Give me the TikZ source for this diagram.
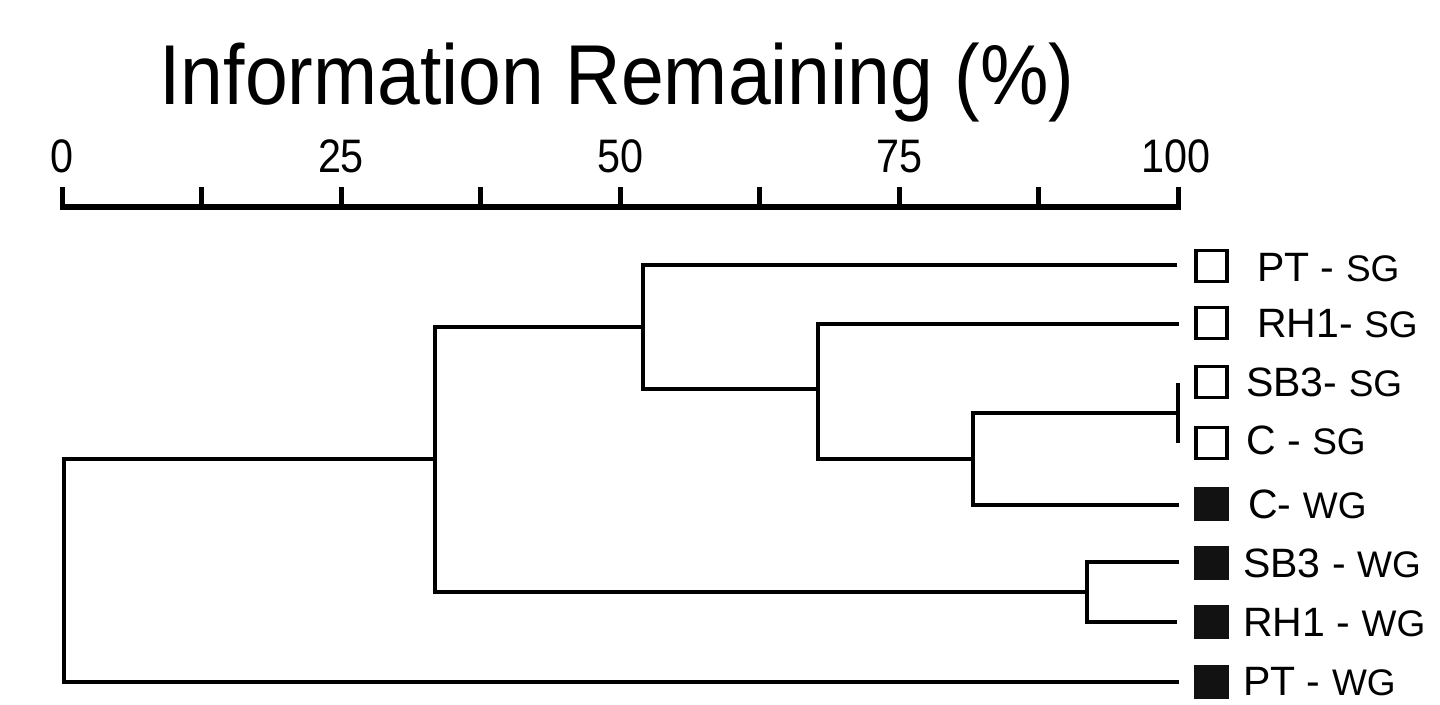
\documentclass[tikz,border=0pt]{standalone}
\usepackage{fontspec}
\usepackage{graphicx}
\setmainfont{Liberation Sans}
\newcommand\labbig{\fontsize{41}{41}\selectfont}
\newcommand\labsmall{\fontsize{37}{37}\selectfont}
\newcommand\ticklab[1]{\scalebox{0.88}[1]{\fontsize{47}{47}\selectfont #1}}
\begin{document}
\begin{tikzpicture}[x=1pt,y=-1pt,
  link/.style={line width=3.2pt, line join=miter},
  axisline/.style={line width=6pt},
  tickmark/.style={line width=5pt},
  openbox/.style={draw=black, line width=3.5pt, minimum size=31pt, inner sep=0pt},
  fullbox/.style={openbox, draw=black!93, fill=black!93},
  lab/.style={anchor=base west, inner sep=0pt},
  ticktext/.style={anchor=base, inner sep=0pt}]
\useasboundingbox (0,0) rectangle (1440,704);
\fill[white] (0,0) rectangle (1440,704);

% title
\node[ticktext] (title) at (617,104) {\scalebox{0.905}[1]{\fontsize{85}{85}\selectfont Information Remaining (\%)}};

% axis
\coordinate (a0) at (62,207);
\coordinate (a100) at (1178,207);
\draw[axisline] ([xshift=-2.5pt]a0) -- ([xshift=2.5pt]a100);
\foreach \k in {0,...,8} {
  \draw[tickmark] (62+139.5*\k,187) -- (62+139.5*\k,205);
}
\node[ticktext] (t0) at (62,172) {\ticklab{0}};
\node[ticktext] (t25) at (341,172) {\ticklab{25}};
\node[ticktext] (t50) at (620,172) {\ticklab{50}};
\node[ticktext] (t75) at (899,172) {\ticklab{75}};
\node[ticktext] (t100) at (1176,172) {\ticklab{100}};

% markers
\node[openbox] (bPTSG) at (1211.5,266) {};
\node[openbox] (bRH1SG) at (1211.5,323) {};
\node[openbox] (bSB3SG) at (1211.5,382) {};
\node[openbox] (bCSG) at (1211.5,443) {};
\node[fullbox] (bCWG) at (1211.5,504) {};
\node[fullbox] (bSB3WG) at (1211.5,563) {};
\node[fullbox] (bRH1WG) at (1211.5,622) {};
\node[fullbox] (bPTWG) at (1211.5,682) {};

% labels
\node[lab] (tPTSG) at (1257,281) {\labbig PT - \labsmall SG};
\node[lab] (tRH1SG) at (1257,337) {\labbig RH1- \labsmall SG};
\node[lab] (tSB3SG) at (1246,396) {\labbig SB3- \labsmall SG};
\node[lab] (tCSG) at (1246,454) {\labbig C - \labsmall SG};
\node[lab] (tCWG) at (1248,518) {\labbig C- \labsmall WG};
\node[lab] (tSB3WG) at (1243,577) {\labbig SB3 - \labsmall WG};
\node[lab] (tRH1WG) at (1243,636) {\labbig RH1 - \labsmall WG};
\node[lab] (tPTWG) at (1243,695) {\labbig PT - \labsmall WG};

% leaf ends
\coordinate (lPTSG) at (1177,265);
\coordinate (lRH1SG) at (1179,324);
\coordinate (lSB3SG) at (1178,383);
\coordinate (lCSG) at (1178,443);
\coordinate (lCWG) at (1179,505);
\coordinate (lSB3WG) at (1179,562);
\coordinate (lRH1WG) at (1177,622);
\coordinate (lPTWG) at (1179,682);

% junctions
\coordinate (j1) at (1178,413);
\coordinate (j2) at (973,459);
\coordinate (j3) at (818,389);
\coordinate (j4) at (643,327);
\coordinate (j5) at (1087,592);
\coordinate (j6) at (435,459);
\coordinate (j7) at (64,570);

% dendrogram
\draw[link] (lSB3SG) -- (lCSG);
\draw[link] (j1) -| (j2);
\draw[link] (lCWG) -| (j2);
\draw[link] (lRH1SG) -| (j3);
\draw[link] (j2) -| (j3);
\draw[link] (lPTSG) -| (j4);
\draw[link] (j3) -| (j4);
\draw[link] (lSB3WG) -| (j5);
\draw[link] (lRH1WG) -| (j5);
\draw[link] (j4) -| (j6);
\draw[link] (j5) -| (j6);
\draw[link] (j6) -| (j7);
\draw[link] (lPTWG) -| (j7);
\end{tikzpicture}
\end{document}
